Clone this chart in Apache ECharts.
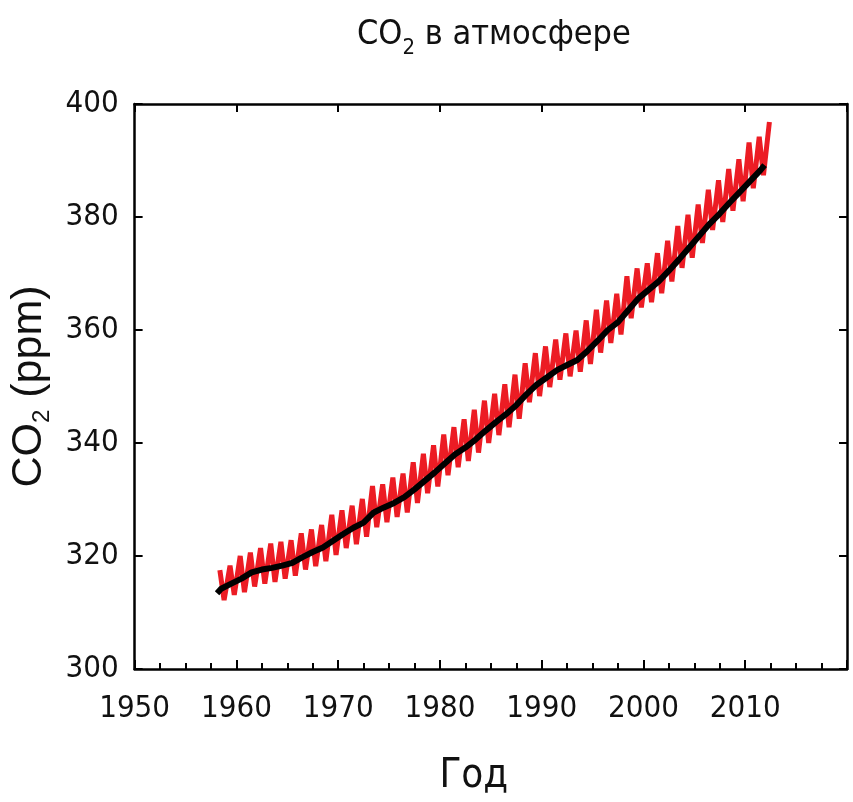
<!DOCTYPE html>
<html lang="ru">
<head>
<meta charset="UTF-8">
<title>CO2 в атмосфере</title>
<style>
html, body { margin: 0; padding: 0; background: #fff; }
#chart { width: 853px; height: 802px; }
</style>
</head>
<body>
<div id="chart"></div>
<script src="https://cdn.jsdelivr.net/npm/echarts@6/dist/echarts.min.js"></script>
<script>
// Mauna Loa (red): seasonal maximum (May) and minimum (Oct) per year
var mloYears = [1958, 1959, 1960, 1961, 1962, 1963, 1964, 1965, 1966, 1967,
    1968, 1969, 1970, 1971, 1972, 1973, 1974, 1975, 1976, 1977,
    1978, 1979, 1980, 1981, 1982, 1983, 1984, 1985, 1986, 1987,
    1988, 1989, 1990, 1991, 1992, 1993, 1994, 1995, 1996, 1997,
    1998, 1999, 2000, 2001, 2002, 2003, 2004, 2005, 2006, 2007,
    2008, 2009, 2010, 2011, 2012];
var mloMax = [317.5, 318.3, 320.0, 320.6, 321.4, 322.2, 322.5, 322.8, 324.0, 324.7,
    325.5, 327.3, 328.1, 328.9, 330.1, 332.4, 332.7, 333.9, 334.6, 336.6,
    338.1, 339.6, 341.5, 342.8, 344.2, 345.9, 347.5, 348.7, 350.4, 352.1,
    354.1, 355.9, 357.1, 358.3, 359.4, 359.9, 361.7, 363.6, 365.2, 366.4,
    369.5, 370.9, 371.8, 373.6, 375.8, 378.4, 380.4, 382.2, 384.8, 386.5,
    388.5, 390.2, 393.2, 394.2, 396.8];
var mloMin = [312.2, 313.1, 313.6, 314.6, 315.1, 315.4, 316.0, 316.5, 317.6, 318.2,
    319.1, 320.2, 321.4, 322.1, 323.4, 325.1, 326.0, 326.9, 327.7, 329.4,
    331.1, 332.3, 334.3, 335.7, 336.8, 338.3, 340.0, 341.4, 342.8, 344.3,
    347.2, 348.3, 349.9, 351.2, 351.8, 352.6, 354.0, 356.0, 357.7, 359.2,
    362.1, 364.0, 364.9, 366.5, 368.6, 371.0, 372.8, 375.4, 377.7, 379.1,
    381.1, 382.8, 385.1, 387.4, null];
var peakMonth = 5;
var troughMonth = 10;

// South Pole (black): annual values
var spoYears = [1957.6, 1958, 1959, 1960, 1961, 1962, 1963, 1964, 1965, 1966, 1967,
    1968, 1969, 1970, 1971, 1972, 1973, 1974, 1975, 1976, 1977,
    1978, 1979, 1980, 1981, 1982, 1983, 1984, 1985, 1986, 1987,
    1988, 1989, 1990, 1991, 1992, 1993, 1994, 1995, 1996, 1997,
    1998, 1999, 2000, 2001, 2002, 2003, 2004, 2005, 2006, 2007,
    2008, 2009, 2010, 2011, 2011.4];
var spoValues = [313.4, 314.2, 315.1, 316.0, 317.1, 317.6, 317.9, 318.3, 318.8, 319.8, 320.7,
    321.5, 322.7, 323.9, 325.0, 325.9, 327.7, 328.6, 329.4, 330.4, 331.8,
    333.3, 334.8, 336.4, 338.0, 339.2, 340.6, 342.2, 343.7, 345.1, 346.7,
    348.6, 350.3, 351.6, 352.9, 353.8, 354.7, 356.3, 358.1, 360.0, 361.4,
    363.5, 365.6, 367.1, 368.6, 370.5, 372.5, 374.6, 376.7, 378.8, 380.6,
    382.6, 384.5, 386.4, 388.3, 389.2];

var xTicks = [1950, 2020, 10];
var yTicks = [300, 400, 20];

var redData = [];
mloYears.forEach(function (y, i) {
    redData.push([y + (peakMonth - 0.5) / 12, mloMax[i]]);
    if (mloMin[i] != null) redData.push([y + (troughMonth - 0.5) / 12, mloMin[i]]);
});
var blackData = spoYears.map(function (y, i) { return [y + 0.5, spoValues[i]]; });

var narrow = "'Liberation Sans Narrow', 'DejaVu Sans Condensed', 'Liberation Sans', sans-serif";
var axisBase = {
    axisLine: { show: true, lineStyle: { color: '#000', width: 2.5 } },
    splitLine: { show: false }
};

var chart = echarts.init(document.getElementById('chart'));
chart.setOption({
    animation: false,
    backgroundColor: '#fff',
    title: {
        text: '{a|CO}{s|2}{a| в атмосфере}',
        left: 352,
        top: 6,
        textStyle: {
            fontWeight: 'normal',
            rich: {
                a: { fontFamily: narrow, fontSize: 34, fontWeight: 'normal', color: '#111', lineHeight: 48 },
                s: { fontFamily: narrow, fontSize: 22, fontWeight: 'normal', color: '#111', verticalAlign: 'bottom', lineHeight: 22 }
            }
        }
    },
    grid: { left: 127, right: 6, top: 104, bottom: 133 },
    xAxis: [
        Object.assign({
            type: 'value', min: xTicks[0], max: xTicks[1], interval: xTicks[2],
            name: 'Год', nameLocation: 'middle', nameGap: 88,
            nameTextStyle: { fontFamily: narrow, fontSize: 40, color: '#111', padding: [0, 34, 0, 0] },
            axisTick: { inside: true, length: 9, lineStyle: { color: '#000', width: 2 } },
            minorTick: { show: true, splitNumber: 4, length: 6, lineStyle: { color: '#000', width: 2 } },
            axisLabel: {
                fontFamily: narrow, fontSize: 31, color: '#111', margin: 24, showMaxLabel: false,
                formatter: function (v) { return String(v); }
            }
        }, axisBase),
        Object.assign({
            type: 'value', position: 'top', min: xTicks[0], max: xTicks[1], interval: xTicks[2],
            axisTick: { inside: true, length: 8, lineStyle: { color: '#000', width: 2 } },
            axisLabel: { show: false }
        }, axisBase)
    ],
    yAxis: [
        Object.assign({
            type: 'value', min: yTicks[0], max: yTicks[1], interval: yTicks[2],
            name: '{a|CO}{s|2}{a| (ppm)}', nameLocation: 'middle', nameGap: 68,
            nameTextStyle: {
                rich: {
                    a: { fontFamily: 'Liberation Sans, sans-serif', fontSize: 43, color: '#111', lineHeight: 50 },
                    s: { fontFamily: 'Liberation Sans, sans-serif', fontSize: 24, color: '#111', verticalAlign: 'bottom', lineHeight: 24 }
                }
            },
            axisTick: { inside: true, length: 8, lineStyle: { color: '#000', width: 2 } },
            axisLabel: { fontFamily: narrow, fontSize: 31, color: '#111', margin: 16 }
        }, axisBase),
        Object.assign({
            type: 'value', position: 'right', min: yTicks[0], max: yTicks[1], interval: yTicks[2],
            axisTick: { inside: true, length: 8, lineStyle: { color: '#000', width: 2 } },
            axisLabel: { show: false }
        }, axisBase)
    ],
    series: [
        {
            type: 'line', data: redData, showSymbol: false,
            lineStyle: { color: '#ec1c24', width: 5 }, z: 2
        },
        {
            type: 'line', data: blackData, showSymbol: false,
            lineStyle: { color: '#000', width: 6 }, z: 3
        }
    ]
});
</script>
</body>
</html>
